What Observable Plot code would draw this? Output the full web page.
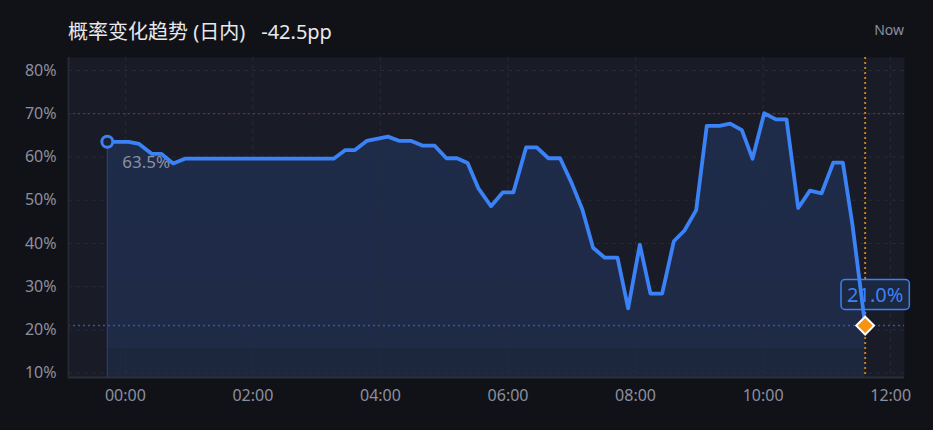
<!DOCTYPE html>
<html><head><meta charset="utf-8">
<script src="https://cdn.jsdelivr.net/npm/d3@7"></script>
<script src="https://cdn.jsdelivr.net/npm/@observablehq/plot@0.6"></script>
<style>
html,body{margin:0;padding:0;background:#111217;}
body{width:933px;height:430px;overflow:hidden;font-family:"Noto Sans","Noto Sans CJK SC",sans-serif;}
#head{position:relative;height:50px;}
#title{position:absolute;left:68px;top:18px;font-size:20px;line-height:28px;color:#e8e9ec;font-family:"Noto Sans","Noto Sans CJK SC",sans-serif;white-space:nowrap;}
#title .chg{margin-left:16px;}
#now{position:absolute;right:29px;top:20px;font-size:14px;line-height:20px;color:#8b8fa0;}
#chart svg{display:block;}
</style></head><body>
<div id="head"><div id="title">概率变化趋势 (日内)<span class="chg">-42.5pp</span></div><div id="now">Now</div></div>
<div id="chart"></div>
<script>
// time in minutes relative to 00:00 (negative = previous evening)
const minutes = [-17, 3, 13, 25, 34, 45, 56, 196, 207, 216, 227, 247, 258, 269, 280, 291, 302, 312, 322, 332, 344, 355, 365, 377, 387, 398, 409, 420, 430, 440, 451, 463, 473, 484, 494, 505, 516, 526, 537, 547, 559, 569, 580, 590, 601, 612, 622, 633, 644, 655, 666, 675, 684, 696];
const probs = [63.5, 63.5, 63.0, 60.7, 60.7, 58.5, 59.6, 59.6, 61.6, 61.6, 63.7, 64.7, 63.7, 63.7, 62.6, 62.6, 59.7, 59.7, 58.6, 52.8, 48.6, 51.8, 51.8, 62.2, 62.2, 59.7, 59.7, 53.9, 47.8, 39.0, 36.7, 36.7, 25.0, 39.7, 28.4, 28.4, 40.5, 43.0, 47.7, 67.2, 67.2, 67.7, 66.2, 59.6, 70.1, 68.7, 68.7, 48.2, 52.2, 51.6, 58.7, 58.7, 44.4, 21.0];
const tickMinutes = [0, 120, 240, 360, 480, 600, 720];
const tickLabels = ["00:00", "02:00", "04:00", "06:00", "08:00", "10:00", "12:00"];
const yTicks = [10, 20, 30, 40, 50, 60, 70, 80];
const refLine = 70;
const xDomain = [-53.5, 733];
const yDomain = [9, 83];

const data = minutes.map((m, i) => ({m, v: probs[i]}));
const first = data[0], last = data[data.length - 1];
const blue = "#3b82f6";

const plot = Plot.plot({
  width: 933, height: 380,
  marginTop: 7, marginBottom: 53, marginLeft: 68, marginRight: 29,
  style: {background: "transparent", fontFamily: "'Noto Sans', sans-serif", fontSize: "16px", color: "#8b8fa0", overflow: "visible"},
  x: {type: "linear", domain: xDomain, label: null},
  y: {domain: yDomain, label: null},
  marks: [
    Plot.frame({fill: "#191b26", stroke: null}),
    Plot.areaY(data, {x: "m", y1: yDomain[0], y2: "v", fill: "url(#areaGrad)"}),
    Plot.ruleX([first], {x: "m", y1: yDomain[0], y2: "v", stroke: "#2f5190", strokeOpacity: 0.7, strokeWidth: 1}),
    Plot.gridY(yTicks, {stroke: "#2a2e3c", strokeOpacity: 0.8, strokeDasharray: "4,4"}),
    Plot.gridX(tickMinutes, {stroke: "#2a2e3c", strokeOpacity: 0.8, strokeDasharray: "4,4"}),
    Plot.ruleY([refLine], {stroke: "#6e2f3a", strokeDasharray: "2,3", strokeWidth: 1.2}),
    Plot.ruleY([last], {y: "v", stroke: "#2c5aa6", strokeDasharray: "2,3", strokeWidth: 1.5}),
    Plot.ruleX([last], {x: "m", stroke: "#c47f1c", strokeDasharray: "2,3", strokeWidth: 2}),
    Plot.ruleY([yDomain[0]], {stroke: "#2c2f3b", strokeWidth: 2}),
    Plot.ruleX([xDomain[0]], {stroke: "#262935", strokeWidth: 2}),
    Plot.axisY(yTicks, {tickSize: 0, tickPadding: 12, tickFormat: d => d + "%", fill: "#8b8fa0", label: null}),
    Plot.axisX(tickMinutes, {tickSize: 0, tickPadding: 12, tickFormat: d => tickLabels[tickMinutes.indexOf(d)], fill: "#8b8fa0", label: null}),
    Plot.text([first], {x: "m", y: "v", text: d => d.v.toFixed(1) + "%", dx: 15, dy: 21, textAnchor: "start", fill: "#8b8fa0", fontSize: 17}),
    Plot.text([last], {x: "m", y: "v", text: d => d.v.toFixed(1) + "%", dx: 10, dy: -30, textAnchor: "middle", fill: blue, fontSize: 20}),
    Plot.line(data, {x: "m", y: "v", stroke: blue, strokeWidth: 3.8, strokeLinejoin: "round", strokeLinecap: "round"}),
    Plot.dot([first], {x: "m", y: "v", r: 5.5, stroke: blue, strokeWidth: 3, fill: "#1a2136"}),
    Plot.dot([last], {x: "m", y: "v", symbol: "diamond2", r: 8, fill: "#f7930f", stroke: "#ffffff", strokeWidth: 2})
  ]
});
document.getElementById("chart").appendChild(plot);

// gradient for the area
const NS = "http://www.w3.org/2000/svg";
const defs = document.createElementNS(NS, "defs");
defs.innerHTML = `<linearGradient id="areaGrad" gradientUnits="userSpaceOnUse" x1="0" y1="0" x2="0" y2="380">
  <stop offset="0" stop-color="#1f2c4a"/>
  <stop offset="0.785" stop-color="#1e2a46"/>
  <stop offset="0.785" stop-color="#1c263d"/>
  <stop offset="1" stop-color="#1c263d"/>
</linearGradient>`;
plot.insertBefore(defs, plot.firstChild);

// rounded box behind the end label
const label = last.v.toFixed(1) + "%";
for (const t of plot.querySelectorAll("text")) {
  if (t.textContent === label && t.getAttribute("fill") !== "#8b8fa0") {
    const bb = t.getBBox();
    const r = document.createElementNS(NS, "rect");
    r.setAttribute("x", bb.x - 6);
    r.setAttribute("y", bb.y + bb.height / 2 - 15);
    r.setAttribute("width", bb.width + 12);
    r.setAttribute("height", 30);
    r.setAttribute("rx", 4);
    r.setAttribute("fill", "#1c2740");
    r.setAttribute("stroke", blue);
    r.setAttribute("stroke-width", 1.5);
    if (t.getAttribute("transform")) r.setAttribute("transform", t.getAttribute("transform"));
    t.parentNode.insertBefore(r, t);
  }
}
</script>
</body></html>
